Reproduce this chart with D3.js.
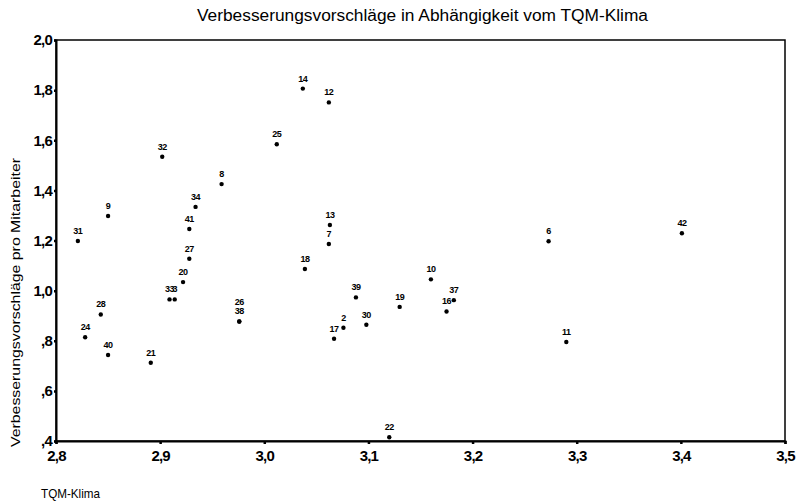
<!DOCTYPE html>
<html>
<head>
<meta charset="utf-8">
<script src="https://cdn.jsdelivr.net/npm/d3@7"></script>
<style>
  html, body { margin: 0; padding: 0; background: #fff; }
  svg { display: block; }
  .cond { font-family: "Liberation Sans Narrow", "Liberation Sans", Arial, sans-serif; }
</style>
</head>
<body>
<svg id="chart" width="802" height="504"></svg>
<script>
// ---- data ----
const caseLabels = ["31","9","28","24","40","21","32","8","34","41","27","20","33","3","38","26","25","14","12","13","7","18","39","2","17","30","19","10","16","37","22","6","11","42"];
const tqmKlima   = [2.821,2.850,2.843,2.828,2.850,2.891,2.902,2.959,2.934,2.928,2.928,2.922,2.909,2.914,2.976,2.976,3.012,3.037,3.062,3.063,3.062,3.039,3.088,3.076,3.067,3.098,3.130,3.160,3.175,3.182,3.120,3.273,3.290,3.401];
const vorschlaege= [1.198,1.298,0.905,0.814,0.743,0.712,1.534,1.425,1.334,1.246,1.127,1.034,0.965,0.965,0.877,0.877,1.584,1.806,1.751,1.262,1.186,1.086,0.973,0.852,0.808,0.864,0.935,1.045,0.917,0.962,0.415,1.197,0.795,1.229];
const xTickValues = [2.8,2.9,3.0,3.1,3.2,3.3,3.4,3.5];
const xTickLabels = ["2,8","2,9","3,0","3,1","3,2","3,3","3,4","3,5"];
const yTickValues = [2.0,1.8,1.6,1.4,1.2,1.0,0.8,0.6,0.4];
const yTickLabels = ["2,0","1,8","1,6","1,4","1,2","1,0",",8",",6",",4"];
const titleText = "Verbesserungsvorschläge in Abhängigkeit vom TQM-Klima";
const xTitle = "TQM-Klima";
const yTitle = "Verbesserungsvorschläge pro Mitarbeiter";

// ---- layout ----
const L = 56, R = 785, T = 40, B = 441;
const svg = d3.select("#chart");
const x = d3.scaleLinear().domain([2.8, 3.5]).range([L, R]);
const y = d3.scaleLinear().domain([0.4, 2.0]).range([B, T]);

// title
svg.append("text").attr("class", "cond")
  .attr("x", 197).attr("y", 21)
  .attr("font-size", 16)
  .attr("textLength", 451).attr("lengthAdjust", "spacingAndGlyphs")
  .attr("fill", "#000")
  .text(titleText);

// frame
svg.append("rect").attr("x", L).attr("y", T).attr("width", R - L).attr("height", B - T)
  .attr("fill", "none").attr("stroke", "#000").attr("stroke-width", 1.5);

// axes
const xAxis = d3.axisBottom(x).tickValues(xTickValues)
  .tickFormat((d, i) => xTickLabels[i]).tickSize(3).tickPadding(6);
const yAxis = d3.axisLeft(y).tickValues(yTickValues)
  .tickFormat((d, i) => yTickLabels[i]).tickSize(2).tickPadding(2);

const gx = svg.append("g").attr("transform", `translate(0,${B})`).call(xAxis);
const gy = svg.append("g").attr("transform", `translate(${L},0)`).call(yAxis);
[gx, gy].forEach(g => {
  g.select(".domain").attr("stroke", "#000").attr("stroke-width", 2);
  g.selectAll(".tick line").attr("stroke", "#000").attr("stroke-width", 2.5);
  g.selectAll(".tick text")
    .attr("class", "cond")
    .attr("font-size", 15).attr("font-weight", "bold")
    .attr("letter-spacing", -0.8).attr("fill", "#000");
});

// axis titles
svg.append("text").attr("class", "cond")
  .attr("transform", "translate(20,447) rotate(-90)")
  .attr("font-size", 13)
  .attr("textLength", 289).attr("lengthAdjust", "spacingAndGlyphs")
  .attr("fill", "#000")
  .text(yTitle);

svg.append("text").attr("class", "cond")
  .attr("x", 41).attr("y", 498)
  .attr("font-size", 13)
  .attr("textLength", 59).attr("lengthAdjust", "spacingAndGlyphs")
  .attr("fill", "#000")
  .text(xTitle);

// points
const data = caseLabels.map((lab, i) => ({ lab, xv: tqmKlima[i], yv: vorschlaege[i] }));
const gp = svg.append("g");
gp.selectAll("circle").data(data).enter().append("circle")
  .attr("cx", d => x(d.xv)).attr("cy", d => y(d.yv))
  .attr("r", 2.2).attr("fill", "#000");

// labels: stack labels of coincident points
const placed = [];
data.forEach(d => {
  const px = x(d.xv), py = y(d.yv);
  let shift = 0;
  placed.forEach(p => { if (Math.abs(p.px - px) < 1.5 && Math.abs(p.py - py) < 1.5) shift += 9; });
  placed.push({ px, py });
  gp.append("text").attr("class", "cond")
    .attr("x", px).attr("y", py - 7 - shift)
    .attr("text-anchor", "middle")
    .attr("font-size", 9).attr("font-weight", "bold")
    .attr("letter-spacing", -0.5)
    .attr("fill", "#000")
    .text(d.lab);
});
</script>
</body>
</html>
